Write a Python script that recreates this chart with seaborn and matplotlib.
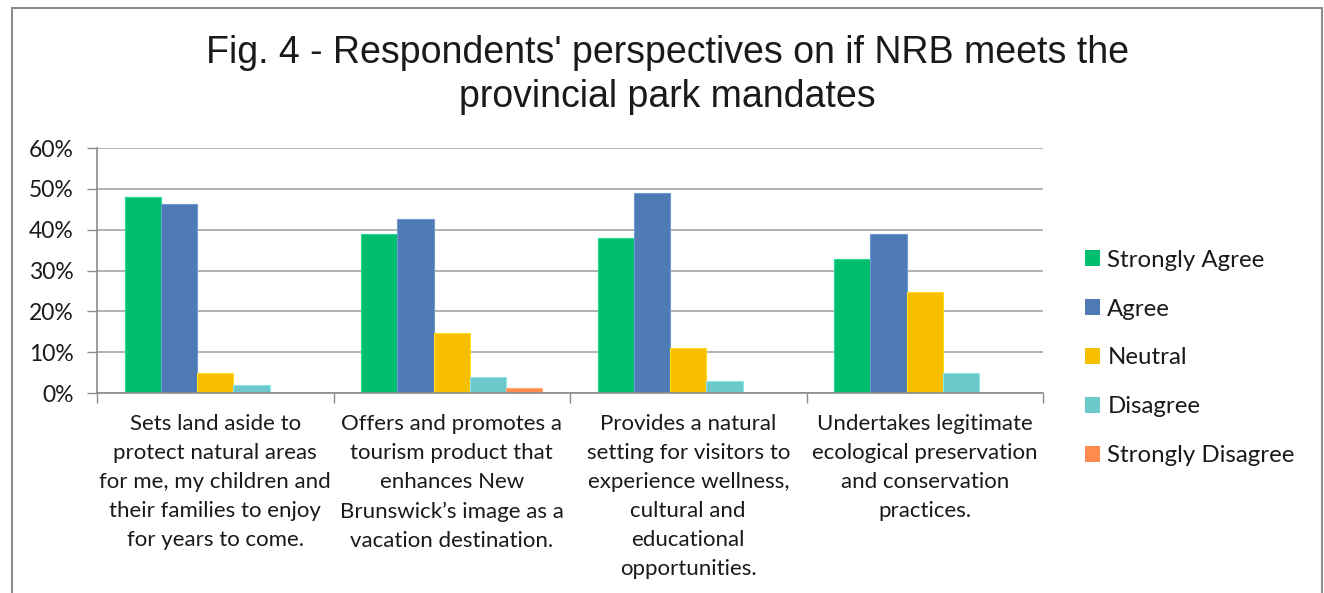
import matplotlib
matplotlib.use("Agg")
import matplotlib.pyplot as plt
import matplotlib.patches as mpatches
from matplotlib.ticker import FixedLocator
import seaborn as sns
import pandas as pd

# Survey mandates (x categories) and response shares (%)
mandates = [
    "Sets land aside to\nprotect natural areas\nfor me, my children and\ntheir families to enjoy\nfor years to come.",
    "Offers and promotes a\ntourism product that\nenhances New\nBrunswick\u2019s image as a\nvacation destination.",
    "Provides a natural\nsetting for visitors to\nexperience wellness,\ncultural and\neducational\nopportunities.",
    "Undertakes legitimate\necological preservation\nand conservation\npractices.",
]
responses = ["Strongly Agree", "Agree", "Neutral", "Disagree", "Strongly Disagree"]
strongly_agree = [48.0, 39.0, 38.0, 32.7]
agree = [46.2, 42.6, 48.9, 39.0]
neutral = [4.8, 14.6, 11.0, 24.7]
disagree = [2.0, 3.8, 3.0, 4.8]
strongly_disagree = [0.0, 1.2, 0.0, 0.0]
y_ticks = [0, 10, 20, 30, 40, 50, 60]
y_tick_labels = ["0%", "10%", "20%", "30%", "40%", "50%", "60%"]
colors = ["#00BE6E", "#4E7AB5", "#F8BE00", "#6CC8CB", "#FF8B4F"]

series = [strongly_agree, agree, neutral, disagree, strongly_disagree]
rows = []
for resp, vals in zip(responses, series):
    for m, v in zip(mandates, vals):
        rows.append({"mandate": m, "response": resp, "value": v})
df = pd.DataFrame(rows)

sns.set_theme(style="white")
plt.rcParams["font.family"] = ["Lato", "DejaVu Sans"]

fig = plt.figure(figsize=(13.24, 5.93), dpi=100)
ax = fig.add_axes([97 / 1324, 1 - 393 / 593, (1043 - 97) / 1324, (393 - 148) / 593])

sns.barplot(data=df, x="mandate", y="value", hue="response",
            order=mandates, hue_order=responses, palette=colors,
            width=0.766, saturation=1, ax=ax, legend=True)

# thin lighter outlines on the bars
for patch in ax.patches:
    fc = patch.get_facecolor()
    patch.set_edgecolor(tuple(min(1, c + 0.12) for c in fc[:3]))
    patch.set_linewidth(0.8)

ax.set_ylim(0, 60)
ax.set_xlim(-0.5, 3.5)
ax.set_yticks(y_ticks)
ax.set_yticklabels(y_tick_labels, fontsize=16.5, color="#1a1a1a")
ax.yaxis.grid(True, color="#A6A6A6", linewidth=1.2)
ax.set_axisbelow(True)
ax.tick_params(axis="y", which="major", length=7, width=1.0, color="#8C8C8C",
               left=True, pad=10)

# category labels centred, tick marks at category boundaries
ax.set_xticks(range(len(mandates)))
ax.set_xticklabels(mandates, fontsize=16, color="#1a1a1a", linespacing=1.57, va="top")
ax.tick_params(axis="x", which="major", length=0, pad=15)
ax.xaxis.set_minor_locator(FixedLocator([-0.5, 0.5, 1.5, 2.5, 3.5]))
ax.tick_params(axis="x", which="minor", length=7, width=1.0, color="#8C8C8C", bottom=True)

ax.set_xlabel("")
ax.set_ylabel("")
for side in ["top", "right"]:
    ax.spines[side].set_visible(False)
for side in ["left", "bottom"]:
    ax.spines[side].set_color("#8C8C8C")
    ax.spines[side].set_linewidth(1.2)

# legend on the right
handles = [mpatches.Patch(facecolor=c, edgecolor="none") for c in colors]
leg = ax.legend(handles, responses, loc="center left",
                bbox_to_anchor=(1085 / 1324, 1 - 358 / 593),
                bbox_transform=fig.transFigure, frameon=False,
                fontsize=17.3, handlelength=0.63, handleheight=0.63,
                handletextpad=0.3, labelspacing=1.16, borderpad=0, borderaxespad=0)
for t in leg.get_texts():
    t.set_color("#1a1a1a")

fig.suptitle("Fig. 4 - Respondents' perspectives on if NRB meets the\nprovincial park mandates",
             x=667 / 1324, y=1 - 35 / 593, va="top", fontsize=27,
             family=["Liberation Sans", "DejaVu Sans"], color="#1a1a1a",
             linespacing=1.3)

# chart-area border
fig.patches.append(mpatches.Rectangle((12 / 1324, -0.05), (1322 - 12) / 1324, 1.05 - 8 / 593,
                                      transform=fig.transFigure, fill=False,
                                      edgecolor="#8C8C8C", linewidth=1.5))

fig.savefig("out.png", dpi=100, facecolor="white")
